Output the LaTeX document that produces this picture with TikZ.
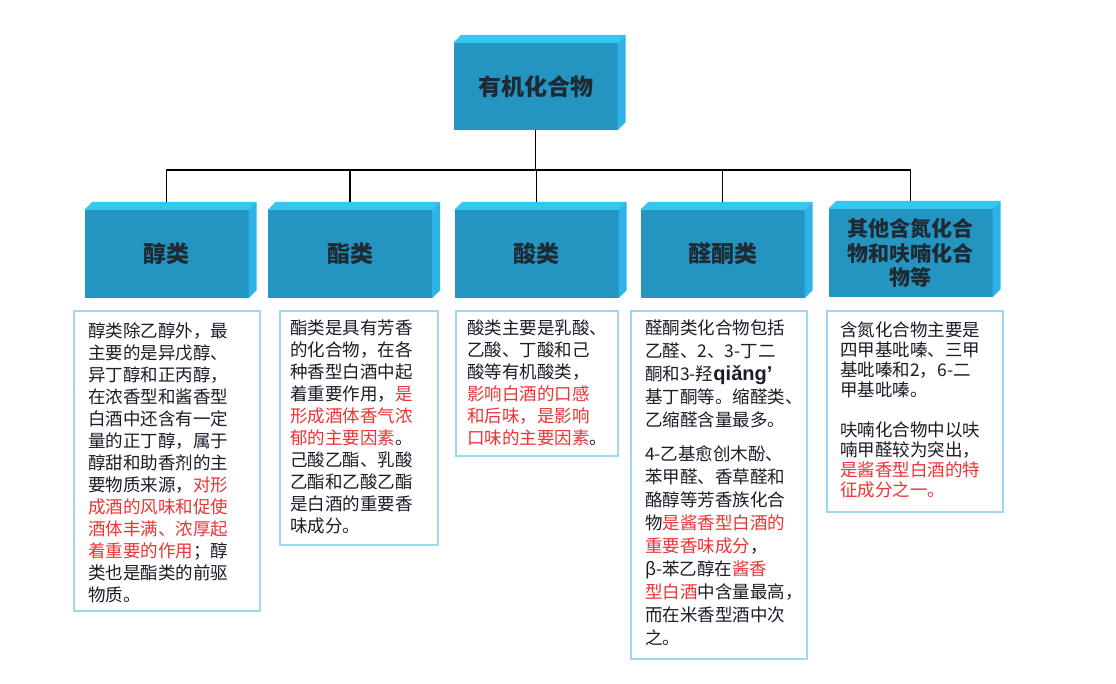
\documentclass[tikz,border=0pt]{standalone}
\usepackage{fontspec}
\setmainfont{Noto Sans CJK SC}
\newfontfamily\pinyinfont{Liberation Sans}
\definecolor{frontc}{HTML}{2494C0}
\definecolor{topc}{HTML}{36C6F2}
\definecolor{sidec}{HTML}{2DB3E6}
\definecolor{txtc}{HTML}{1C1C28}
\definecolor{hdrtxt}{HTML}{1E2A33}
\definecolor{redc}{HTML}{EC3434}
\definecolor{boxline}{HTML}{9ED8F0}
\newcommand{\rt}[1]{\textcolor{redc}{#1}}
\begin{document}
\begin{tikzpicture}[x=1pt,y=-1pt,
  hdr/.style={fill=frontc, minimum width=164pt, minimum height=88pt, inner sep=0pt,
    text=hdrtxt, font=\fontsize{23}{26}\selectfont\bfseries, align=center},
  conn/.style={draw=black, line width=1.8pt},
  infobox/.style={draw=boxline, line width=1.3pt, fill=white, inner sep=0pt},
  infotext/.style={anchor=north west, inner sep=0pt, align=left, text=txtc,
    font=\fontsize{17.5}{22}\selectfont}]
\useasboundingbox (0,0) rectangle (1116,684);
\fill[white] (0,0) rectangle (1116,684);

% header boxes (front faces)
\node[hdr, minimum height=87pt] (top) at (535.5,86.5) {有机化合物};
\node[hdr] (b1) at (166.5,254) {醇类};
\node[hdr] (b2) at (350,254) {酯类};
\node[hdr] (b3) at (536.5,254) {酸类};
\node[hdr] (b4) at (722.5,254) {醛酮类};
\node[hdr, font=\fontsize{21}{24.5}\selectfont\bfseries] (b5) at (910.5,253) {其他含氮化合\\物和呋喃化合\\物等};

% 3D faces
\foreach \n in {top,b1,b2,b3,b4,b5}{
  \fill[topc] (\n.north west) -- ++(8,-8) -- ([shift={(8pt,8pt)}]\n.north east) -- (\n.north east) -- cycle;
  \fill[sidec] (\n.north east) -- ++(8,-8) -- ([shift={(8pt,8pt)}]\n.south east) -- (\n.south east) -- cycle;
}

% connectors
\coordinate (bus) at (535.5,170);
\draw[conn] (top.south) -- (bus);
\draw[conn] ([yshift=8pt]b1.north) |- (bus -| b5.north) -- ([yshift=8pt]b5.north);
\draw[conn] ([yshift=8pt]b2.north) -- (bus -| b2.north);
\draw[conn] ([yshift=8pt]b3.north) -- (bus -| b3.north);
\draw[conn] ([yshift=8pt]b4.north) -- (bus -| b4.north);

% info boxes
\node[infobox, minimum width=186pt, minimum height=300pt] (t1) at (167,461) {};
\node[infobox, minimum width=158pt, minimum height=234pt] (t2) at (359,428) {};
\node[infobox, minimum width=162pt, minimum height=145pt] (t3) at (537,383.5) {};
\node[infobox, minimum width=176pt, minimum height=348pt] (t4) at (719,485) {};
\node[infobox, minimum width=176pt, minimum height=201pt] (t5) at (915,411.5) {};

\node[infotext] (x1) at (88,322) {醇类除乙醇外，最\\主要的是异戊醇、\\异丁醇和正丙醇，\\在浓香型和酱香型\\白酒中还含有一定\\量的正丁醇，属于\\醇甜和助香剂的主\\要物质来源，\rt{对形}\\\rt{成酒的风味和促使}\\\rt{酒体丰满、浓厚起}\\\rt{着重要的作用}；醇\\类也是酯类的前驱\\物质。};

\node[infotext] (x2) at (290,320) {酯类是具有芳香\\的化合物，在各\\种香型白酒中起\\着重要作用，\rt{是}\\\rt{形成酒体香气浓}\\\rt{郁的主要因素}。\\己酸乙酯、乳酸\\乙酯和乙酸乙酯\\是白酒的重要香\\味成分。};

\node[infotext] (x3) at (467,320) {酸类主要是乳酸、\\乙酸、丁酸和己\\酸等有机酸类，\\\rt{影响白酒的口感}\\\rt{和后味，是影响}\\\rt{口味的主要因素}。};

\node[infotext, font=\fontsize{17.5}{23}\selectfont] (x4) at (645,320) {醛酮类化合物包括\\乙醛、2、3-丁二\\酮和3-羟{\pinyinfont\bfseries\fontsize{20}{22}\selectfont qiǎng’}\\基丁酮等。缩醛类、\\乙缩醛含量最多。\\[11pt]4-乙基愈创木酚、\\苯甲醛、香草醛和\\酪醇等芳香族化合\\物\rt{是酱香型白酒的}\\\rt{重要香味成分}，\\β-苯乙醇在\rt{酱香}\\\rt{型白酒}中含量最高，\\而在米香型酒中次\\之。};

\node[infotext, font=\fontsize{17.5}{20}\selectfont] (x5) at (840,322) {含氮化合物主要是\\四甲基吡嗪、三甲\\基吡嗪和2，6-二\\甲基吡嗪。\\[20pt]呋喃化合物中以呋\\喃甲醛较为突出，\\\rt{是酱香型白酒的特}\\\rt{征成分之一。}};
\end{tikzpicture}
\end{document}
